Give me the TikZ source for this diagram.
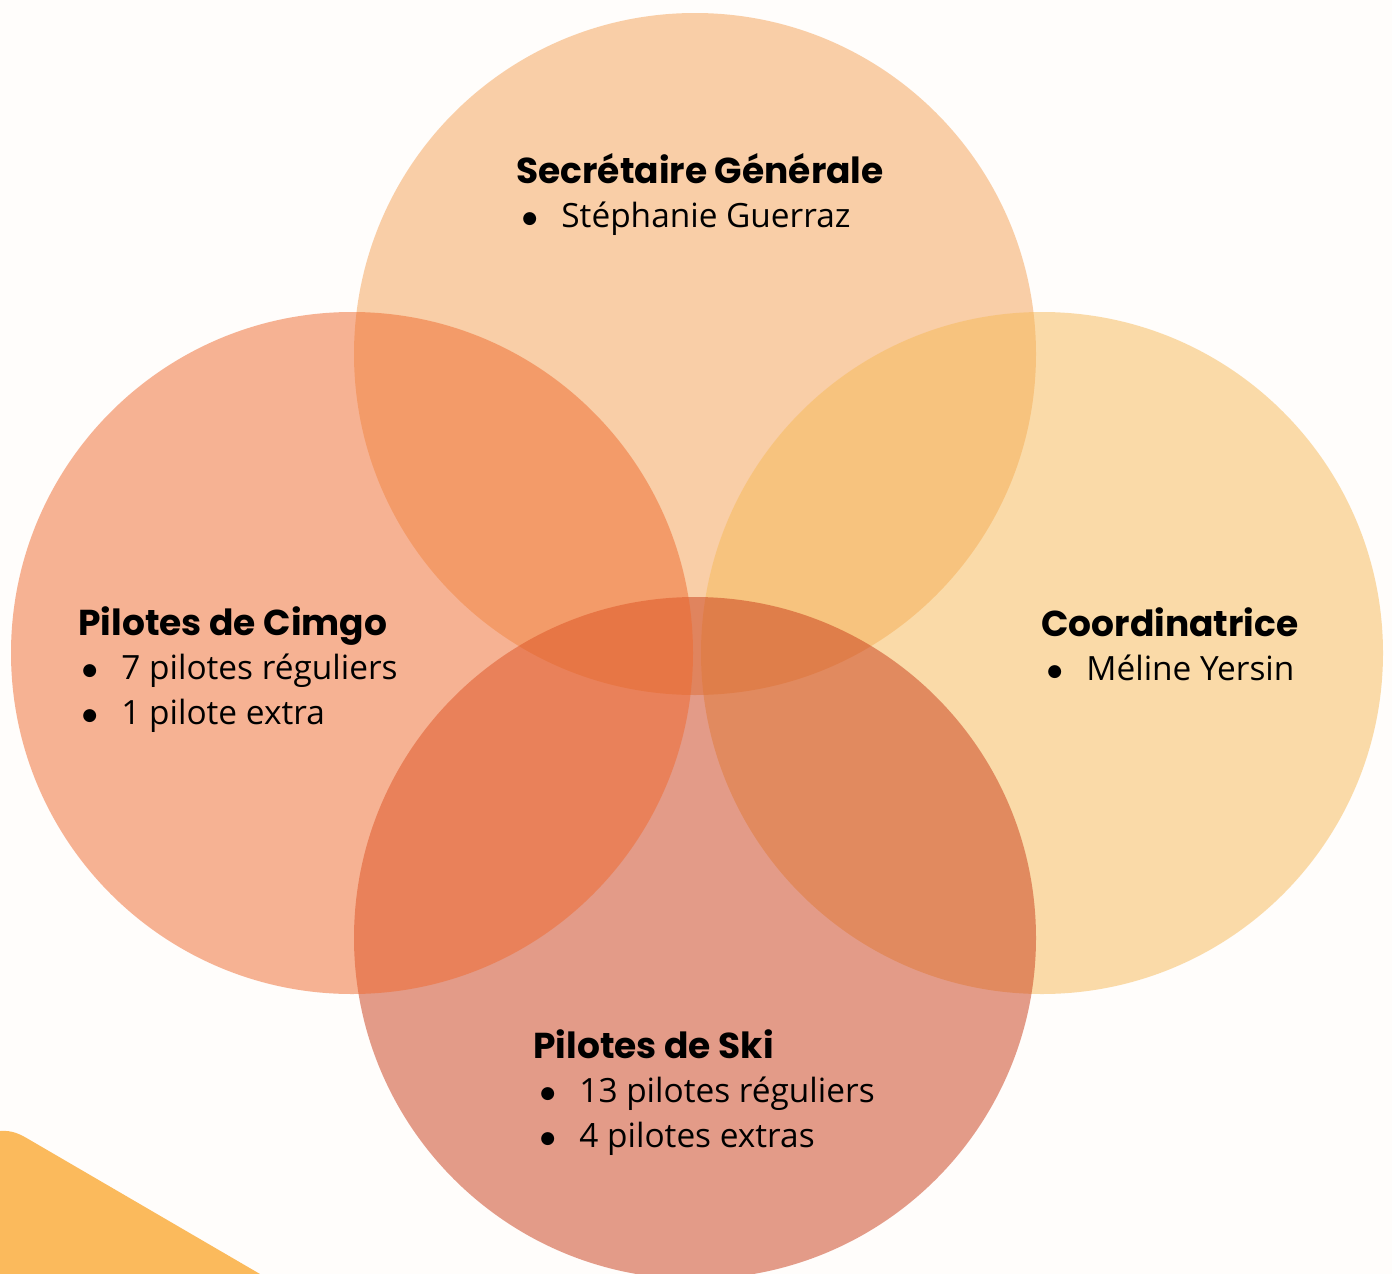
\documentclass[tikz,border=0pt]{standalone}
\usepackage{fontspec}
\setmainfont{Open Sans}
\newfontfamily\titrefont{Poppins}
\newfontfamily\pucefont{DejaVu Sans}
\usetikzlibrary{positioning}

\definecolor{fond}{HTML}{FFFDFB}
\definecolor{coinjaune}{HTML}{FBBA5C}
\definecolor{peche}{HTML}{F5A155}
\definecolor{saumon}{HTML}{EF692D}
\definecolor{abricot}{HTML}{F7B957}
\definecolor{brique}{HTML}{C93B17}

\newcommand{\puce}{\makebox[19.5pt][l]{\raisebox{1.6pt}{\pucefont\fontsize{8.5}{9}\selectfont ●}}}

\begin{document}
\begin{tikzpicture}[x=0.5pt,y=-0.5pt,
  bulle/.style = {circle, minimum size=341pt, inner sep=0pt, fill opacity=0.5},
  titre/.style = {anchor=base west, inner sep=0pt, font=\titrefont\bfseries\fontsize{18}{21}\selectfont},
  ligne/.style = {anchor=base west, inner sep=0pt, font=\fontsize{16.7}{19}\selectfont}]
				% fond et coin
				\fill[fond] (0,0) rectangle (1392,1274);
				\useasboundingbox (0,0) rectangle (1392,1274);
				\fill[coinjaune] (0,1274) -- (0,1131) .. controls (12,1130) and (20,1134) .. (30,1140) -- (260,1274) -- cycle;
				% les quatre cercles
				\node[bulle, fill=peche] (secretaire) at (695,354) {};
				\node[bulle, fill=abricot] (coord) at (1042,653) {};
				\node[bulle, fill=brique] (ski) at (695,938) {};
				\node[bulle, fill=saumon] (cimgo) at (352,653) {};
				% textes
				\node[titre] (secretaireT) at (516,183) {Secrétaire Générale};
				\node[ligne] (secretaire1) at (522,227) {\puce Stéphanie Guerraz};
				\node[titre] (cimgoT) at (78,635) {Pilotes de Cimgo};
				\node[ligne] (cimgo1) at (82,679) {\puce 7 pilotes réguliers};
				\node[ligne] (cimgo2) at (82,724) {\puce 1 pilote extra};
				\node[titre] (coordT) at (1041,636) {Coordinatrice};
				\node[ligne] (coord1) at (1047,680) {\puce Méline Yersin};
				\node[titre] (skiT) at (533,1058) {Pilotes de Ski};
				\node[ligne] (ski1) at (540,1102) {\puce 13 pilotes réguliers};
				\node[ligne] (ski2) at (540,1147) {\puce 4 pilotes extras};
\end{tikzpicture}
\end{document}
